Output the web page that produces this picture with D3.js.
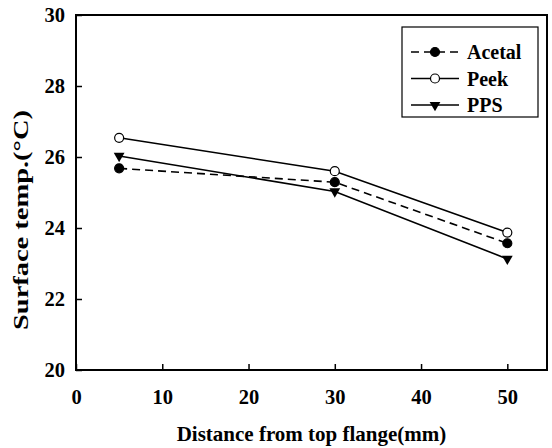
<!DOCTYPE html>
<html>
<head>
<meta charset="utf-8">
<script src="https://cdn.jsdelivr.net/npm/d3@7"></script>
<style>
  body { margin:0; background:#fff; }
</style>
</head>
<body>
<div id="chart"></div>
<script>
// data
const distances = [5, 30, 50];
const acetal = [25.68, 25.29, 23.57];
const peek = [26.54, 25.60, 23.87];
const pps = [26.03, 25.03, 23.13];
const seriesNames = ["Acetal", "Peek", "PPS"];
const xTicks = [0, 10, 20, 30, 40, 50];
const yTicks = [20, 22, 24, 26, 28, 30];

const FONT = "Liberation Serif";
const width = 552, height = 448;
const m = {left:76, right:5, top:15, bottom:78};

const svg = d3.select("#chart").append("svg")
  .attr("width", width).attr("height", height);

const x = d3.scaleLinear().domain([0, 54.6]).range([m.left, width - m.right]);
const y = d3.scaleLinear().domain([20, 30]).range([height - m.bottom, m.top]);

function styleText(sel, size) {
  return sel.attr("font-family", FONT).attr("font-weight", "bold")
    .attr("font-size", size).attr("fill", "#000");
}

// frame
svg.append("rect")
  .attr("x", x(0)).attr("y", y(30))
  .attr("width", x(54.6) - x(0)).attr("height", y(20) - y(30))
  .attr("fill", "none").attr("stroke", "#000").attr("stroke-width", 2);

// axes with inward ticks
const yAxis = svg.append("g").attr("transform", `translate(${x(0)},0)`)
  .call(d3.axisLeft(y).tickValues(yTicks).tickSizeInner(-6).tickSizeOuter(0).tickPadding(11));
const xAxis = svg.append("g").attr("transform", `translate(0,${y(20)})`)
  .call(d3.axisBottom(x).tickValues(xTicks).tickSizeInner(-6).tickSizeOuter(0).tickPadding(19));
[yAxis, xAxis].forEach(g => {
  g.attr("font-family", FONT).attr("font-size", 20).attr("font-weight", "bold");
  g.select(".domain").remove();
  g.selectAll(".tick line").attr("stroke", "#000").attr("stroke-width", 1.5);
  styleText(g.selectAll("text"), 20.5);
});

// axis titles
styleText(svg.append("text").attr("x", (x(0) + x(54.6)) / 2).attr("y", 441)
  .attr("text-anchor", "middle"), 21)
  .text("Distance from top flange(mm)");
styleText(svg.append("text")
  .attr("transform", "translate(28,220) rotate(-90)")
  .attr("x", -110).attr("textLength", 220).attr("lengthAdjust", "spacingAndGlyphs"), 21)
  .text("Surface temp.(\u00B0C)");

const series = [
  {name: seriesNames[0], vals: acetal, dash: "8,5", marker: "filled"},
  {name: seriesNames[1], vals: peek, dash: null, marker: "open"},
  {name: seriesNames[2], vals: pps, dash: null, marker: "tri"}
];

const line = d3.line().x(d => x(d[0])).y(d => y(d[1]));
const tri = d3.symbol().type(d3.symbolTriangle).size(50);

function drawMarker(g, kind, cx, cy) {
  if (kind === "tri") {
    g.append("path").attr("d", tri())
      .attr("transform", `translate(${cx},${cy}) rotate(180)`).attr("fill", "#000");
  } else {
    g.append("circle").attr("cx", cx).attr("cy", cy).attr("r", 4.5)
      .attr("fill", kind === "open" ? "#fff" : "#000")
      .attr("stroke", "#000").attr("stroke-width", 1.2);
  }
}

series.forEach(s => {
  const pts = distances.map((d, i) => [d, s.vals[i]]);
  svg.append("path").datum(pts).attr("d", line)
    .attr("fill", "none").attr("stroke", "#000").attr("stroke-width", 1.6)
    .attr("stroke-dasharray", s.dash);
  const g = svg.append("g");
  pts.forEach(p => drawMarker(g, s.marker, x(p[0]), y(p[1])));
});

// legend
const lg = svg.append("g");
lg.append("rect").attr("x", 402).attr("y", 27).attr("width", 136).attr("height", 90)
  .attr("fill", "#fff").attr("stroke", "#000").attr("stroke-width", 1.2);
series.forEach((s, i) => {
  const ly = 52 + i * 26.5;
  lg.append("line").attr("x1", 411).attr("x2", 459).attr("y1", ly).attr("y2", ly)
    .attr("stroke", "#000").attr("stroke-width", 1.6).attr("stroke-dasharray", s.dash);
  drawMarker(lg, s.marker, 435, ly);
  styleText(lg.append("text").attr("x", 467).attr("y", ly).attr("dy", "0.35em"), 20)
    .text(s.name);
});
</script>
</body>
</html>
